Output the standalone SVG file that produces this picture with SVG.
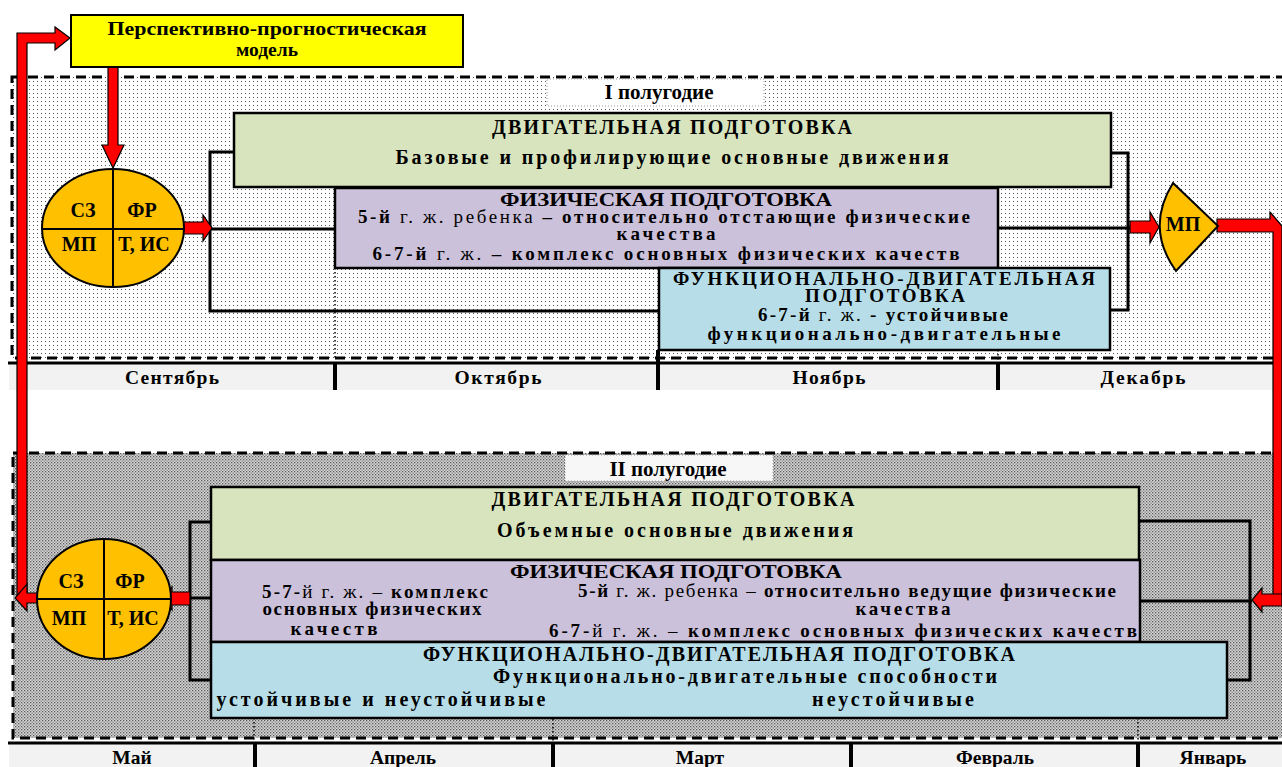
<svg xmlns="http://www.w3.org/2000/svg" width="1282" height="767" viewBox="0 0 1282 767">
<style>
text{font-family:"Liberation Serif","Times New Roman",serif;fill:#000;font-weight:bold;text-anchor:middle}
.h{font-size:20px}
.s{font-size:20px}
.c{font-size:19px}
.m{font-size:19.5px}
.l{font-size:21px}
.t20{font-size:20px}
.n{font-weight:normal}
.box{stroke:#000;stroke-width:2.5}
.g{fill:#d7e4bd}.p{fill:#ccc1da}.b{fill:#b7dee8}
.dash{fill:none;stroke:#000;stroke-width:3;stroke-dasharray:10 6}
.br{fill:none;stroke:#000;stroke-width:3}
.dot{fill:none;stroke:#000;stroke-width:1.5;stroke-dasharray:1.5 2.5}
.red{fill:#ff0000;stroke:#000;stroke-width:1.2;stroke-linejoin:miter}
.ell{fill:#ffc000;stroke:#000;stroke-width:2}
.mline{stroke:#000;stroke-width:4}
.strip{fill:#f2f2f2}
</style>
<defs>
<pattern id="pt1" width="4" height="4" patternUnits="userSpaceOnUse">
<rect width="4" height="4" fill="#ffffff"/>
<rect x="1" y="1" width="1" height="1" fill="#555"/>
</pattern>
<pattern id="pt2" width="3" height="3" patternUnits="userSpaceOnUse">
<rect width="3" height="3" fill="#d6d6d6"/>
<rect x="0" y="0" width="1.3" height="1.3" fill="#5a5a5a"/>
<rect x="1.5" y="1.5" width="1.3" height="1.3" fill="#7a7a7a"/>
</pattern>
</defs>

<g id="panel1">
<rect x="12" y="77" width="1290" height="281" fill="url(#pt1)"/>
<rect x="12" y="77" width="1290" height="281" class="dash"/>
</g>
<g id="panel2">
<rect x="13" y="453" width="1290" height="285" fill="url(#pt2)"/>
<rect x="13" y="453" width="1290" height="285" class="dash"/>
</g>

<g id="months1">
<rect x="9" y="363" width="1273" height="27" class="strip"/>
<line x1="8" y1="363" x2="1282" y2="363" stroke="#000" stroke-width="3"/>
<line x1="335" y1="363" x2="335" y2="390" class="mline"/>
<line x1="658" y1="350" x2="658" y2="390" class="mline"/>
<line x1="998" y1="363" x2="998" y2="390" class="mline"/>
<text x="172" y="384" class="m" textLength="94" lengthAdjust="spacing">Сентябрь</text>
<text x="498" y="384" class="m" textLength="87" lengthAdjust="spacing">Октябрь</text>
<text x="829" y="384" class="m" textLength="73" lengthAdjust="spacing">Ноябрь</text>
<text x="1143" y="384" class="m" textLength="85" lengthAdjust="spacing">Декабрь</text>
</g>
<g id="months2">
<rect x="9" y="743" width="1273" height="24" class="strip"/>
<line x1="8" y1="743" x2="1282" y2="743" stroke="#000" stroke-width="3"/>
<line x1="255" y1="743" x2="255" y2="767" class="mline"/>
<line x1="553" y1="743" x2="553" y2="767" class="mline"/>
<line x1="851" y1="743" x2="851" y2="767" class="mline"/>
<line x1="1138" y1="743" x2="1138" y2="767" class="mline"/>
<text x="132" y="764" class="m">Май</text>
<text x="403" y="764" class="m">Апрель</text>
<text x="700" y="764" class="m">Март</text>
<text x="995" y="764" class="m">Февраль</text>
<text x="1213" y="764" class="m">Январь</text>
</g>

<g id="guides">
<line x1="335" y1="268" x2="335" y2="360" class="dot"/>
<line x1="998" y1="350" x2="998" y2="360" class="dot"/>
<line x1="548" y1="583" x2="548" y2="642" class="dot"/>
<line x1="553" y1="683" x2="553" y2="742" class="dot"/>
<line x1="254" y1="718" x2="254" y2="742" class="dot"/>
<line x1="1138" y1="718" x2="1138" y2="742" class="dot"/>
</g>

<g id="label1">
<rect x="547" y="79" width="217" height="27" fill="#fff" stroke="#999" stroke-width="1" stroke-dasharray="1 2"/>
<text x="659" y="99" class="l">I полугодие</text>
</g>
<g id="label2">
<rect x="565" y="455" width="208" height="26" fill="#f7f7f7" stroke="#999" stroke-width="1" stroke-dasharray="1 2"/>
<text x="668" y="476" class="l">II полугодие</text>
</g>

<g id="connectors">
<polyline points="235,152 210,152 210,311 660,311" class="br"/>
<line x1="210" y1="229" x2="335" y2="229" class="br"/>
<polyline points="1111,153 1128,153 1128,310 1110,310" class="br"/>
<line x1="998" y1="228" x2="1130" y2="228" class="br"/>
<polyline points="211,522 190,522 190,680 211,680" class="br"/>
<line x1="190" y1="598" x2="211" y2="598" class="br"/>
<polyline points="1139,521 1250,521 1250,680 1227,680" class="br"/>
<line x1="1140" y1="601" x2="1252" y2="601" class="br"/>
<polygon class="red" points="17,596 17,33 55,33 55,27 70,38 55,50 55,43 27,43 27,596"/>
<polygon class="red" points="38,593 27,593 27,584 15,598 27,611 27,603 38,603"/>
<polygon class="red" points="108,67 118,67 118,145 124,145 113,168 102,145 108,145"/>
<polygon class="red" points="183,222 203,222 203,215 212,228 203,241 203,234 183,234"/>
<polygon class="red" points="1130,221 1150,221 1150,212 1159,227 1150,243 1150,233 1130,233"/>
<polygon class="red" points="1217,219 1270,219 1270,212 1282,226 1282,596 1273,596 1273,232 1217,232"/>
<polygon class="red" points="1282,594 1262,594 1262,588 1252,600 1262,612 1262,606 1282,606"/>
<polygon class="red" points="190,592 172,592 172,587 163,598 172,610 172,605 190,605"/>
</g>

<g id="model">
<rect x="71" y="15" width="392" height="52" fill="#ffff00" stroke="#000" stroke-width="2"/>
<text x="267" y="35" class="m" textLength="319" lengthAdjust="spacingAndGlyphs">Перспективно-прогностическая</text>
<text x="267" y="56" class="m">модель</text>
</g>

<g id="circle1">
<ellipse cx="113" cy="228" rx="71" ry="59" class="ell"/>
<line x1="113" y1="169" x2="113" y2="287" stroke="#000" stroke-width="2"/>
<line x1="42" y1="229" x2="184" y2="229" stroke="#000" stroke-width="2"/>
<text x="83" y="217" class="t20">СЗ</text>
<text x="142" y="217" class="t20">ФР</text>
<text x="79" y="251" class="t20">МП</text>
<text x="144" y="251" class="t20">Т, ИС</text>
</g>

<g id="circle2">
<ellipse cx="104" cy="599" rx="67" ry="60" class="ell"/>
<line x1="104" y1="539" x2="104" y2="659" stroke="#000" stroke-width="2"/>
<line x1="37" y1="599" x2="171" y2="599" stroke="#000" stroke-width="2"/>
<text x="71" y="588" class="t20">СЗ</text>
<text x="130" y="588" class="t20">ФР</text>
<text x="69" y="625" class="t20">МП</text>
<text x="133" y="625" class="t20">Т, ИС</text>
</g>

<g id="mp">
<path d="M1173,183 L1218,226 L1176,271 Q1145,228 1173,183 Z" class="ell"/>
<text x="1183" y="231" class="t20">МП</text>
</g>

<g id="motor1">
<rect x="234" y="113" width="877" height="74" class="box g"/>
<text x="672" y="134" class="h" textLength="360" lengthAdjust="spacing">ДВИГАТЕЛЬНАЯ ПОДГОТОВКА</text>
<text x="672" y="164" class="s" textLength="553" lengthAdjust="spacing">Базовые и профилирующие основные движения</text>
</g>
<g id="phys1">
<rect x="335" y="188" width="663" height="80" class="box p"/>
<text x="666" y="206" class="c" textLength="332" lengthAdjust="spacingAndGlyphs">ФИЗИЧЕСКАЯ ПОДГОТОВКА</text>
<text x="664" y="223" class="c" textLength="612" lengthAdjust="spacing">5-й<tspan class="n"> г. ж. ребенка </tspan>– относительно отстающие физические</text>
<text x="666" y="240" class="c" textLength="99" lengthAdjust="spacing">качества</text>
<text x="666" y="260" class="c" textLength="587" lengthAdjust="spacing">6-7-й<tspan class="n"> г. ж. </tspan>– комплекс основных физических качеств</text>
</g>
<g id="func1">
<rect x="659" y="268" width="451" height="82" class="box b"/>
<text x="884" y="285" class="c" textLength="422" lengthAdjust="spacing">ФУНКЦИОНАЛЬНО-ДВИГАТЕЛЬНАЯ</text>
<text x="885" y="302" class="c" textLength="160" lengthAdjust="spacing">ПОДГОТОВКА</text>
<text x="883" y="321" class="c" textLength="250" lengthAdjust="spacing">6-7-й<tspan class="n"> г. ж. </tspan>- устойчивые</text>
<text x="884" y="340" class="c" textLength="353" lengthAdjust="spacing">функционально-двигательные</text>
</g>

<g id="motor2">
<rect x="211" y="487" width="928" height="73" class="box g"/>
<text x="673" y="506" class="h" textLength="363" lengthAdjust="spacing">ДВИГАТЕЛЬНАЯ ПОДГОТОВКА</text>
<text x="675" y="537" class="s" textLength="356" lengthAdjust="spacing">Объемные основные движения</text>
</g>
<g id="phys2">
<rect x="211" y="560" width="929" height="82" class="box p"/>
<text x="676" y="578" class="c" textLength="332" lengthAdjust="spacingAndGlyphs">ФИЗИЧЕСКАЯ ПОДГОТОВКА</text>
<text x="375" y="598" class="c" textLength="226" lengthAdjust="spacing">5-7-<tspan class="n">й г. ж. – </tspan>комплекс</text>
<text x="372" y="615" class="c" textLength="219" lengthAdjust="spacing">основных физических</text>
<text x="334" y="635" class="c" textLength="87" lengthAdjust="spacing">качеств</text>
<text x="847" y="597" class="c" textLength="538" lengthAdjust="spacing">5-й<tspan class="n"> г. ж. ребенка – </tspan>относительно ведущие физические</text>
<text x="903" y="615" class="c" textLength="95" lengthAdjust="spacing">качества</text>
<text x="843" y="637" class="c" textLength="588" lengthAdjust="spacing">6-7-<tspan class="n">й г. ж. – </tspan>комплекс основных физических качеств</text>
</g>
<g id="func2">
<rect x="211" y="642" width="1016" height="76" class="box b"/>
<text x="719" y="661" class="h" textLength="592" lengthAdjust="spacing">ФУНКЦИОНАЛЬНО-ДВИГАТЕЛЬНАЯ ПОДГОТОВКА</text>
<text x="745" y="683" class="s" textLength="504" lengthAdjust="spacing">Функционально-двигательные способности</text>
<text x="381" y="706" class="s" textLength="329" lengthAdjust="spacing">устойчивые и неустойчивые</text>
<text x="893" y="706" class="s" textLength="162" lengthAdjust="spacing">неустойчивые</text>
</g>
</svg>
